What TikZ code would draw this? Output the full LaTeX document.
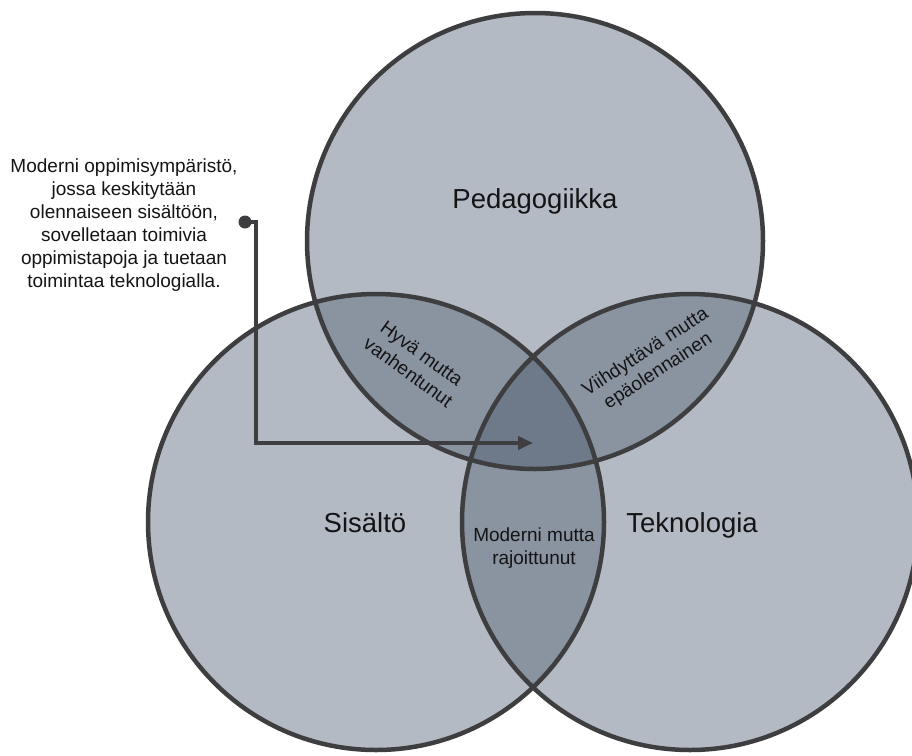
\documentclass[tikz,border=0pt]{standalone}
\usepackage{fontspec}
\setmainfont{Liberation Sans}
\usetikzlibrary{arrows.meta,positioning}
\definecolor{vennone}{RGB}{180,186,195}
\definecolor{venntwo}{RGB}{138,148,160}
\definecolor{vennthree}{RGB}{110,122,138}
\definecolor{rim}{RGB}{62,62,64}
\definecolor{ink}{RGB}{20,20,22}
\newcommand{\vennrad}{228pt}

\begin{document}
\begin{tikzpicture}[x=1pt,y=-1pt,
    rimline/.style={draw=rim,line width=4.5pt},
    biglabel/.style={text=ink,font=\fontsize{27.5}{33}\selectfont,inner sep=0pt},
    smalllabel/.style={text=ink,font=\fontsize{19}{23}\selectfont,align=center,inner sep=0pt}]
    \useasboundingbox (0,0) rectangle (912,755);
    \coordinate (ped) at (535,241);
    \coordinate (sis) at (376,522);
    \coordinate (tek) at (690,522);

    \fill[vennone] (ped) circle[radius=\vennrad] (sis) circle[radius=\vennrad] (tek) circle[radius=\vennrad];
    \begin{scope}
      \clip (ped) circle[radius=\vennrad];
      \fill[venntwo] (sis) circle[radius=\vennrad] (tek) circle[radius=\vennrad];
    \end{scope}
    \begin{scope}
      \clip (sis) circle[radius=\vennrad];
      \fill[venntwo] (tek) circle[radius=\vennrad];
      \clip (ped) circle[radius=\vennrad];
      \fill[vennthree] (tek) circle[radius=\vennrad];
    \end{scope}
    \draw[rimline] (ped) circle[radius=\vennrad] (sis) circle[radius=\vennrad] (tek) circle[radius=\vennrad];

    \node[biglabel,anchor=base] (pedlabel) at (535,208) {Pedagogiikka};
    \node[biglabel,anchor=base] (sislabel) at (365,532) {Sisältö};
    \node[biglabel,anchor=base] (teklabel) at (692,532) {Teknologia};
    \node[smalllabel,rotate=-36] (hyva) at (415,363) {Hyvä mutta\\vanhentunut};
    \node[smalllabel,rotate=33] (viihde) at (652,362) {Viihdyttävä mutta\\epäolennainen};
    \node[smalllabel] (moderni) at (534,548) {Moderni mutta\\rajoittunut};
    \node[smalllabel] (kuvaus) at (124,225) {Moderni oppimisympäristö,\\jossa keskitytään\\olennaiseen sisältöön,\\sovelletaan toimivia\\oppimistapoja ja tuetaan\\toimintaa teknologialla.};

    \coordinate (start) at (245,222);
    \coordinate (tip) at (533,443);
    \fill[rim] (start) circle[radius=6.5pt];
    \draw[rim,line width=4pt,-{Triangle[length=15pt,width=13pt]}] (start) -- ++(11,0) |- (tip);
\end{tikzpicture}
\end{document}
